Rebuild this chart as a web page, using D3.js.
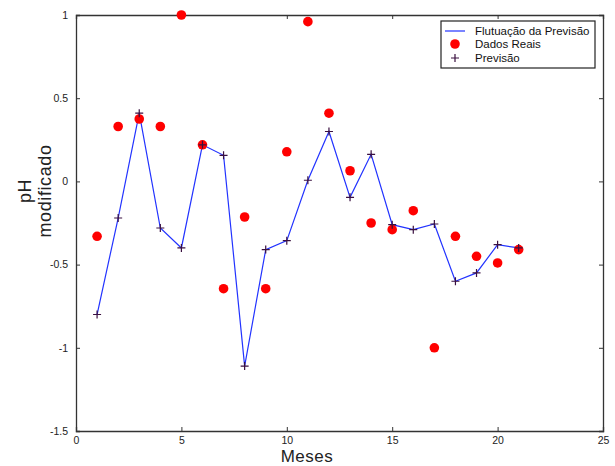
<!DOCTYPE html>
<html>
<head>
<meta charset="utf-8">
<script src="https://cdn.jsdelivr.net/npm/d3@7"></script>
<style>
  body { margin: 0; background: #fff; }
  text { font-family: "Liberation Sans", Arial, sans-serif; }
</style>
</head>
<body>
<script>
// months and series
var meses = [1, 2, 3, 4, 5, 6, 7, 8, 9, 10, 11, 12, 13, 14, 15, 16, 17, 18, 19, 20, 21];
var dadosReais = [-0.33, 0.33, 0.375, 0.33, 1.0, 0.22, -0.645, -0.214, -0.645, 0.178, 0.96,
                  0.41, 0.064, -0.25, -0.29, -0.176, -1.0, -0.33, -0.45, -0.49, -0.41];
var previsao = [-0.80, -0.22, 0.41, -0.28, -0.40, 0.22, 0.157, -1.11, -0.41, -0.356, 0.007,
                0.30, -0.096, 0.163, -0.26, -0.29, -0.256, -0.60, -0.55, -0.38, -0.40];
var xTicks = [0, 5, 10, 15, 20, 25];
var yTicks = [-1.5, -1, -0.5, 0, 0.5, 1];
var legendLabels = ["Flutuação da Previsão", "Dados Reais", "Previsão"];

var margin = { top: 15, right: 12, bottom: 35, left: 76 },
    width = 615 - margin.left - margin.right,
    height = 466 - margin.top - margin.bottom;

var svg = d3.select("body").append("svg")
    .attr("width", 615)
    .attr("height", 466);

var g = svg.append("g")
    .attr("transform", "translate(" + margin.left + "," + margin.top + ")");

var x = d3.scaleLinear().domain([0, 25]).range([0, width]);
var y = d3.scaleLinear().domain([-1.5, 1]).range([height, 0]);

var fmt = function (d) { return String(d); };

// axes, ticks pointing inward like matlab
g.append("g").attr("class", "axis")
    .attr("transform", "translate(0," + height + ")")
    .call(d3.axisBottom(x).tickValues(xTicks).tickFormat(fmt).tickSize(-4).tickPadding(6));
g.append("g").attr("class", "axis")
    .call(d3.axisTop(x).tickValues(xTicks).tickFormat("").tickSize(-4));
g.append("g").attr("class", "axis")
    .call(d3.axisLeft(y).tickValues(yTicks).tickFormat(fmt).tickSize(-4).tickPadding(8));
g.append("g").attr("class", "axis")
    .attr("transform", "translate(" + width + ",0)")
    .call(d3.axisRight(y).tickValues(yTicks).tickFormat("").tickSize(-4));

g.selectAll(".axis path").attr("stroke", "#333").attr("stroke-width", 1.3);
g.selectAll(".axis line").attr("stroke", "#333");
g.selectAll(".axis text").attr("fill", "#222").style("font-size", "10.5px");

// the forecast line
var line = d3.line()
    .x(function (d, i) { return x(meses[i]); })
    .y(function (d) { return y(d); });

g.append("path")
    .datum(previsao)
    .attr("fill", "none")
    .attr("stroke", "#2233ff")
    .attr("stroke-width", 1.2)
    .attr("d", line);

// real data as red dots
g.selectAll(".dot")
    .data(dadosReais)
    .enter().append("circle")
    .attr("class", "dot")
    .attr("r", 4.8)
    .attr("cx", function (d, i) { return x(meses[i]); })
    .attr("cy", function (d) { return y(d); })
    .attr("fill", "#ff0000");

// forecast as crosses
var cross = function (sel, s) {
    sel.append("path")
        .attr("d", "M" + (-s) + ",0H" + s + "M0," + (-s) + "V" + s)
        .attr("stroke", "#3a1040")
        .attr("stroke-width", 1.2);
};
g.selectAll(".cross")
    .data(previsao)
    .enter().append("g")
    .attr("class", "cross")
    .attr("transform", function (d, i) { return "translate(" + x(meses[i]) + "," + y(d) + ")"; })
    .call(cross, 4);

// axis labels
svg.append("text")
    .attr("x", 307)
    .attr("y", 462)
    .attr("text-anchor", "middle")
    .attr("fill", "#222")
    .style("font-size", "17px")
    .style("letter-spacing", "0.5px")
    .text("Meses");

var yl = svg.append("text")
    .attr("transform", "translate(31,191) rotate(-90)")
    .attr("text-anchor", "middle")
    .attr("fill", "#222")
    .style("font-size", "18px")
    .style("letter-spacing", "0.6px");
yl.append("tspan").attr("x", 0).attr("dy", 0).text("pH");
yl.append("tspan").attr("x", 0).attr("dy", 20).text("modificado");

// legend
var lg = svg.append("g").attr("transform", "translate(441,21)");
lg.append("rect")
    .attr("width", 154)
    .attr("height", 47)
    .attr("fill", "#fff")
    .attr("stroke", "#222")
    .attr("stroke-width", 1.2);

var rowY = [10, 23, 37];
lg.append("line")
    .attr("x1", 4).attr("x2", 24)
    .attr("y1", rowY[0]).attr("y2", rowY[0])
    .attr("stroke", "#2233ff").attr("stroke-width", 1.2);
lg.append("circle")
    .attr("cx", 14).attr("cy", rowY[1]).attr("r", 4.8)
    .attr("fill", "#ff0000");
lg.append("g")
    .attr("transform", "translate(14," + rowY[2] + ")")
    .call(cross, 4);

lg.selectAll(".ltext")
    .data(legendLabels)
    .enter().append("text")
    .attr("class", "ltext")
    .attr("x", 34)
    .attr("y", function (d, i) { return rowY[i] + 4; })
    .attr("fill", "#111")
    .style("font-size", "11.5px")
    .text(function (d) { return d; });
</script>
</body>
</html>
